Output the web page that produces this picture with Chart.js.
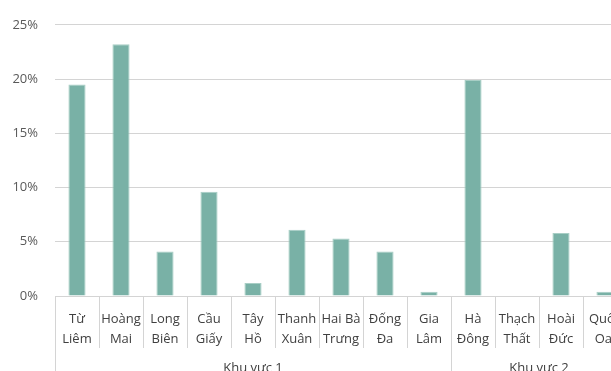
<!DOCTYPE html>
<html>
<head>
<meta charset="utf-8">
<script src="https://cdn.jsdelivr.net/npm/chart.js@4/dist/chart.umd.min.js"></script>
<style>
html,body{margin:0;padding:0;overflow:hidden;background:#fff;width:611px;height:371px;}
#wrap{position:absolute;left:0;top:0;width:640px;height:390px;}
</style>
</head>
<body>
<div id="wrap"><canvas id="c" width="640" height="390"></canvas></div>
<script>
const categories = [
  ["Từ","Liêm"],["Hoàng","Mai"],["Long","Biên"],["Cầu","Giấy"],["Tây","Hồ"],
  ["Thanh","Xuân"],["Hai Bà","Trưng"],["Đống","Đa"],["Gia","Lâm"],
  ["Hà","Đông"],["Thạch","Thất"],["Hoài","Đức"],["Quốc","Oai"]
];
const values = [19.5, 23.2, 4.1, 9.6, 1.2, 6.1, 5.3, 4.1, 0.4, 19.9, 0, 5.8, 0.4];
const groups = ["Khu vực 1", "Khu vực 2"];
const groupSizes = [9, 4];
const yTicks = [0, 5, 10, 15, 20, 25];

const FONT = "'Open Sans', sans-serif";
const TXT = '#595959';
const XTXT = '#404040';
const GRID = '#d4d4d4';

const groupPlugin = {
  id: 'groupPlugin',
  afterDraw(chart) {
    const ctx = chart.ctx;
    const xs = chart.scales.x;
    const n = categories.length;
    const w = (xs.right - xs.left) / n;
    const base = chart.chartArea.bottom;
    ctx.save();
    ctx.strokeStyle = GRID;
    ctx.lineWidth = 1;
    const groupEdges = [0];
    let acc = 0;
    groupSizes.forEach(s => { acc += s; groupEdges.push(acc); });
    for (let i = 0; i <= n; i++) {
      const x = Math.round(xs.left + i * w) + 0.5;
      const long = groupEdges.includes(i);
      ctx.beginPath();
      ctx.moveTo(x, base);
      ctx.lineTo(x, long ? chart.height : base + 52);
      ctx.stroke();
    }
    ctx.fillStyle = XTXT;
    ctx.font = "13px " + FONT;
    ctx.textAlign = 'center';
    ctx.textBaseline = 'middle';
    for (let g = 0; g < groups.length; g++) {
      const x0 = xs.left + groupEdges[g] * w;
      const x1 = xs.left + groupEdges[g + 1] * w;
      ctx.fillText(groups[g], (x0 + x1) / 2, base + 72);
    }
    ctx.restore();
  }
};

new Chart(document.getElementById('c'), {
  type: 'bar',
  data: {
    labels: categories,
    datasets: [{
      data: values,
      backgroundColor: '#79b1a6',
      borderColor: '#a8cec5',
      borderWidth: 1,
      categoryPercentage: 1,
      barPercentage: 0.39
    }]
  },
  options: {
    responsive: false,
    animation: false,
    devicePixelRatio: 1,
    layout: { padding: { top: 21, right: 13, left: 0, bottom: 0 } },
    plugins: { legend: { display: false }, tooltip: { enabled: false } },
    scales: {
      x: {
        grid: { display: false },
        border: { display: false },
        ticks: {
          autoSkip: false, maxRotation: 0, minRotation: 0,
          color: XTXT, padding: 6,
          font: { family: FONT, size: 13, lineHeight: 1.5 }
        },
        afterFit(s) { s.height = 94; }
      },
      y: {
        min: 0, max: 25,
        afterBuildTicks(s) { s.ticks = yTicks.map(v => ({ value: v })); },
        grid: { color: GRID, drawTicks: false, lineWidth: 1 },
        border: { display: false },
        ticks: {
          color: TXT, padding: 17,
          font: { family: FONT, size: 13 },
          callback: v => v + '%'
        },
        afterFit(s) { s.width = 55; }
      }
    }
  },
  plugins: [groupPlugin]
});
</script>
</body>
</html>
